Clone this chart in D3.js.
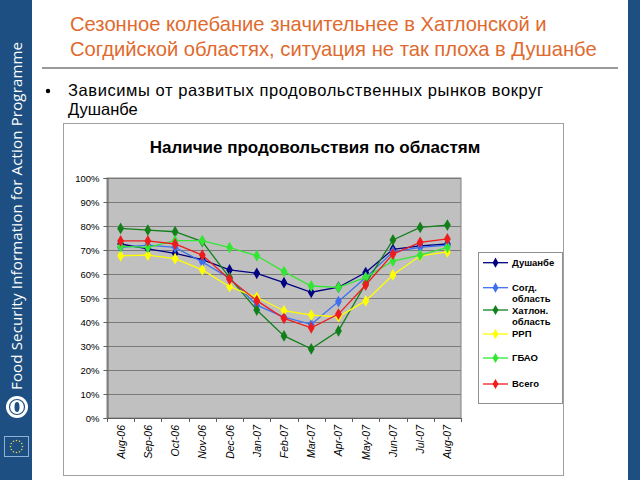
<!DOCTYPE html>
<html><head><meta charset="utf-8">
<script src="https://cdn.jsdelivr.net/npm/d3@7"></script>
<style>html,body{margin:0;padding:0;background:#fff;}svg{display:block;}</style>
</head><body>
<script>
const months = ["Aug-06","Sep-06","Oct-06","Nov-06","Dec-06","Jan-07","Feb-07","Mar-07","Apr-07","May-07","Jun-07","Jul-07","Aug-07"];
const seriesNames = ["Душанбе","Согд. область","Хатлон. область","РРП","ГБАО","Всего"];
const dushanbe = [72.5,70.5,68.6,66.0,61.7,60.3,56.4,52.4,54.5,60.6,70.3,71.7,72.5];
const sogd     = [71.1,72.0,71.1,65.0,58.3,47.0,42.0,39.0,48.5,58.5,69.2,71.1,72.0];
const khatlon  = [79.0,78.3,77.6,73.5,58.5,45.0,34.2,28.8,36.3,56.0,74.2,79.4,80.4];
const rrp      = [67.6,67.9,66.4,61.7,54.7,50.3,44.7,42.9,42.2,48.8,59.6,67.6,69.2];
const gbao     = [71.5,71.1,73.9,73.9,71.0,67.6,61.0,55.0,54.4,58.6,65.4,67.9,71.1];
const total    = [73.8,73.8,72.5,67.9,57.8,48.9,41.5,37.6,43.3,55.4,68.3,73.2,74.6];
const yTicks = [0,10,20,30,40,50,60,70,80,90,100];
const colors = ["#000080","#3f6fef","#12801a","#ffff00","#33e633","#ee1c1c"];

const seriesValues = [dushanbe,sogd,khatlon,rrp,gbao,total];

const W=640,H=480;
const svg = d3.select("body").append("svg").attr("width",W).attr("height",H);

// side bars
svg.append("rect").attr("x",0).attr("y",0).attr("width",32).attr("height",H).attr("fill","#1d4f82");
svg.append("rect").attr("x",628).attr("y",0).attr("width",12).attr("height",H).attr("fill","#1d4f82");
svg.append("text").attr("transform","translate(22,390) rotate(-90)")
  .attr("font-family","Open Sans, sans-serif").attr("font-size",15).attr("fill","#fff")
  .attr("textLength",348).attr("lengthAdjust","spacing")
  .text("Food Security Information for Action Programme");
// FAO logo
const fao = svg.append("g").attr("transform","translate(17,407)");
fao.append("circle").attr("r",11).attr("fill","#fff");
fao.append("circle").attr("r",7.5).attr("fill","none").attr("stroke","#1d4f82").attr("stroke-width",1.2);
fao.append("ellipse").attr("rx",2.5).attr("ry",5).attr("fill","#1d4f82");
// EU flag
svg.append("rect").attr("x",4.5).attr("y",436.5).attr("width",24).attr("height",20).attr("fill","#1d4f82").attr("stroke","#8fb0d4").attr("stroke-width",1);
d3.range(12).forEach(i=>{
  const a=i/12*2*Math.PI;
  svg.append("circle").attr("cx",16.5+6*Math.cos(a)).attr("cy",446.5+6*Math.sin(a)).attr("r",0.8).attr("fill","#e8d24a");
});

// title
const title = svg.append("text").attr("font-family","Liberation Sans, Arial, sans-serif").attr("font-size",20.2).attr("fill","#e06a2e");
title.append("tspan").attr("x",70).attr("y",31).text("Сезонное колебание значительнее в Хатлонской и");
title.append("tspan").attr("x",70).attr("y",56).text("Согдийской областях, ситуация не так плоха в Душанбе");
svg.append("line").attr("x1",42).attr("x2",618).attr("y1",68).attr("y2",68).attr("stroke","#9a9a9a").attr("stroke-width",2);
svg.append("circle").attr("cx",48).attr("cy",91).attr("r",2.2).attr("fill","#000");
svg.append("text").attr("font-family","Liberation Sans, Arial, sans-serif").attr("font-size",16.5).attr("fill","#000")
  .attr("x",68).attr("y",96).attr("textLength",475).attr("lengthAdjust","spacing")
  .text("Зависимы от развитых продовольственных рынков вокруг");
svg.append("text").attr("font-family","Liberation Sans, Arial, sans-serif").attr("font-size",16.5).attr("fill","#000")
  .attr("x",68).attr("y",115).text("Душанбе");

// chart frame
svg.append("rect").attr("x",63.5).attr("y",123.5).attr("width",500).attr("height",352).attr("fill","#fff").attr("stroke","#a0a0a0").attr("stroke-width",1);
svg.append("text").attr("x",315).attr("y",153).attr("text-anchor","middle")
  .attr("font-family","Liberation Sans, Arial, sans-serif").attr("font-weight","bold").attr("font-size",17).attr("fill","#000")
  .text("Наличие продовольствия по областям");

const x = d3.scaleBand().domain(months).range([107,461]);
const y = d3.scaleLinear().domain([0,100]).range([418,178]);

svg.append("rect").attr("x",107).attr("y",178).attr("width",354).attr("height",240).attr("fill","#c0c0c0").attr("stroke","#808080");

// gridlines
svg.append("g").selectAll("line").data(yTicks.filter(d=>d>0)).join("line")
  .attr("x1",107).attr("x2",461).attr("y1",d=>Math.round(y(d))+0.5).attr("y2",d=>Math.round(y(d))+0.5)
  .attr("stroke","#7a7a7a").attr("stroke-width",1);

// y axis
const yAxis = svg.append("g").attr("transform","translate(107.5,0)")
  .call(d3.axisLeft(y).tickValues(yTicks).tickFormat(d=>d+"%").tickSize(4).tickPadding(4));
yAxis.selectAll("path,line").attr("stroke","#606060");
yAxis.selectAll("text").attr("font-family","Liberation Sans, Arial, sans-serif").attr("font-size",9.5).attr("fill","#000");

// x axis
svg.append("line").attr("x1",107).attr("x2",461).attr("y1",418.5).attr("y2",418.5).attr("stroke","#606060");
const bounds = months.map(m=>x(m)).concat([x.range()[1]]);
svg.append("g").selectAll("line").data(bounds).join("line")
  .attr("x1",d=>Math.round(d)+0.5).attr("x2",d=>Math.round(d)+0.5).attr("y1",418).attr("y2",422).attr("stroke","#606060");
svg.append("g").selectAll("text").data(months).join("text")
  .attr("transform",d=>`translate(${x(d)+x.bandwidth()/2+4},425) rotate(-90)`)
  .attr("text-anchor","end").attr("font-family","Liberation Sans, Arial, sans-serif").attr("font-style","italic")
  .attr("font-size",10.5).attr("fill","#000").text(d=>d);

// series
const line = d3.line().x((d,i)=>x(months[i])+x.bandwidth()/2).y(d=>y(d));
seriesValues.forEach((vals,k)=>{
  const g = svg.append("g");
  g.append("path").attr("d",line(vals)).attr("fill","none").attr("stroke",colors[k]).attr("stroke-width",1.3);
  g.selectAll("path.m").data(vals).join("path").attr("class","m")
    .attr("transform",(d,i)=>`translate(${x(months[i])+x.bandwidth()/2},${y(d)})`)
    .attr("d",d3.symbol().type(d3.symbolDiamond).size(40)).attr("fill",colors[k]);
});

// legend
svg.append("rect").attr("x",478.5).attr("y",252.5).attr("width",84).attr("height",151).attr("fill","#fff").attr("stroke","#909090");
const legRows = [262.7,287.7,310,334,358,384];
const legText = [[262.7],[287.5,298.5],[310.5,322],[334],[358],[384]];
seriesNames.forEach((name,k)=>{
  const ly = legRows[k];
  svg.append("line").attr("x1",483).attr("x2",508).attr("y1",ly).attr("y2",ly).attr("stroke",colors[k]).attr("stroke-width",1.3);
  svg.append("path").attr("transform",`translate(495.5,${ly})`).attr("d",d3.symbol().type(d3.symbolDiamond).size(30)).attr("fill",colors[k]);
  const parts = name.split(" ");
  const t = svg.append("text").attr("font-family","Liberation Sans, Arial, sans-serif").attr("font-weight","bold").attr("font-size",9.5).attr("fill","#000");
  parts.forEach((p,j)=>t.append("tspan").attr("x",512).attr("y",legText[k][j]+3.4).text(p));
});
</script>
</body></html>
